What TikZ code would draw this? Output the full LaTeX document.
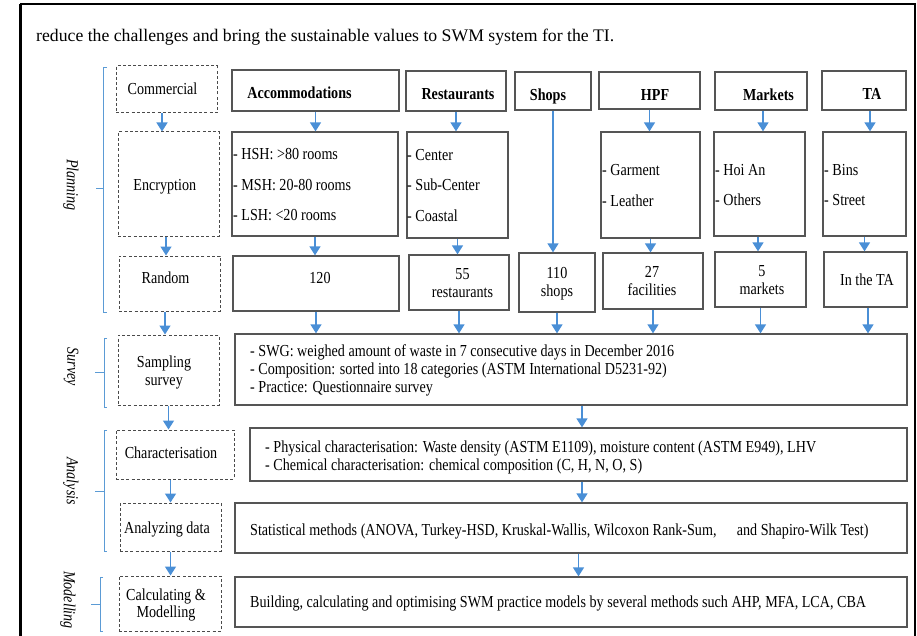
\documentclass[tikz,border=0pt]{standalone}
\usepackage{fontspec}
\setmainfont{Liberation Serif}
\newfontfamily\figfont{Liberation Serif}[FakeStretch=0.84]
\usetikzlibrary{arrows.meta}

\definecolor{flowblue}{HTML}{4A8FD6}
\definecolor{bracketblue}{HTML}{5B9BD5}
\definecolor{boxgray}{HTML}{555555}
\definecolor{dashgray}{HTML}{4A4A4A}

\tikzset{
  solidbox/.style={draw=boxgray, line width=1.3pt, inner sep=0pt},
  dashbox/.style={draw=dashgray, line width=1pt, dash pattern=on 3pt off 2.2pt, inner sep=0pt},
  txt/.style={font=\figfont\fontsize{16.8}{17.7}\selectfont, inner sep=0pt, anchor=base, align=center},
  listtxt/.style={font=\figfont\fontsize{16.8}{30.8}\selectfont, inner sep=0pt, anchor=base west, align=left},
  linestxt/.style={font=\figfont\fontsize{16.8}{17.7}\selectfont, inner sep=0pt, anchor=base west, align=left},
  headtxt/.style={txt, font=\figfont\bfseries\fontsize{16.8}{17.7}\selectfont},
  sidetxt/.style={font=\figfont\itshape\fontsize{16.8}{17.7}\selectfont, rotate=-90, inner sep=0pt},
  flow/.style={draw=flowblue, line width=1.5pt, -{Triangle[width=11pt,length=9pt]}},
  brack/.style={draw=bracketblue, line width=1pt}
}

\begin{document}
\begin{tikzpicture}[x=1pt, y=-1pt]
\useasboundingbox (0,0) rectangle (917,636);

% page frame and running text
\draw[line width=2pt] (21,640) -- (21,4.3) -- (914.5,4.3) -- (914.5,640);
\draw[line width=2.7pt] (20.8,4) -- (20.8,640);
\node[anchor=base west, inner sep=0pt, font=\fontsize{17.7}{21}\selectfont] (title) at (36,41.7)
  {reduce the challenges and bring the sustainable values to SWM system for the TI.};

% left column
\node[dashbox, minimum width=101, minimum height=47] (com) at (166.5,89.5) {};
\node[dashbox, minimum width=101, minimum height=104] (enc) at (168.5,184) {};
\node[dashbox, minimum width=101, minimum height=55] (rnd) at (169.5,283.5) {};
\node[dashbox, minimum width=101, minimum height=70] (smp) at (168.5,370) {};
\node[dashbox, minimum width=118, minimum height=49] (chr) at (175,454.5) {};
\node[dashbox, minimum width=101, minimum height=48] (anl) at (170.5,527) {};
\node[dashbox, minimum width=102, minimum height=55] (cal) at (170,603.5) {};

\node[txt] (comT) at (162.5,95) {Commercial};
\node[txt] (encT) at (164.8,190.7) {Encryption};
\node[txt] (rndT) at (165.5,283.3) {Random};
\node[txt] (smpT) at (164,385) {Sampling\\survey};
\node[txt] (chrT) at (171,458.7) {Characterisation};
\node[txt] (anlT) at (167,533) {Analyzing data};
\node[txt] (calT) at (166,617.7) {Calculating \&\\Modelling};

% categories
\node[solidbox, minimum width=167, minimum height=41] (accH) at (315.5,90.5) {};
\node[solidbox, minimum width=166, minimum height=104] (accE) at (315,184) {};
\node[solidbox, minimum width=166, minimum height=55] (accN) at (316,283.5) {};
\node[solidbox, minimum width=100, minimum height=40] (resH) at (456,91) {};
\node[solidbox, minimum width=101, minimum height=106] (resE) at (457.5,185) {};
\node[solidbox, minimum width=100, minimum height=55] (resN) at (459,282.5) {};
\node[solidbox, minimum width=76, minimum height=38] (shpH) at (553,91) {};
\node[solidbox, minimum width=76, minimum height=59] (shpN) at (557,282.5) {};
\node[solidbox, minimum width=101, minimum height=37] (hpfH) at (649.5,90.5) {};
\node[solidbox, minimum width=99, minimum height=106] (hpfE) at (650.5,185) {};
\node[solidbox, minimum width=100, minimum height=56] (hpfN) at (653,281) {};
\node[solidbox, minimum width=92, minimum height=38] (mktH) at (761,91) {};
\node[solidbox, minimum width=91, minimum height=104] (mktE) at (759.5,184) {};
\node[solidbox, minimum width=91, minimum height=55] (mktN) at (760.5,279.5) {};
\node[solidbox, minimum width=84, minimum height=39] (taH) at (864,90.5) {};
\node[solidbox, minimum width=83, minimum height=104] (taE) at (864.5,184) {};
\node[solidbox, minimum width=83, minimum height=55] (taN) at (865.5,279.5) {};

\node[headtxt] (accHT) at (299.5,98.7) {Accommodations};
\node[headtxt] (resHT) at (458,99.3) {Restaurants};
\node[headtxt] (shpHT) at (548,100.3) {Shops};
\node[headtxt] (hpfHT) at (655,100.3) {HPF};
\node[headtxt] (mktHT) at (768.5,100.3) {Markets};
\node[headtxt] (taHT) at (872,100) {TA};

\node[listtxt] (accET) at (233,221) {- HSH: >80 rooms\\- MSH: 20-80 rooms\\- LSH: <20 rooms};
\node[listtxt] (resET) at (407,221.7) {- Center\\- Sub-Center\\- Coastal};
\node[listtxt] (hpfET) at (602,206.7) {- Garment\\- Leather};
\node[listtxt] (mktET) at (715,206) {- Hoi An\\- Others};
\node[listtxt] (taET) at (824,206) {- Bins\\- Street};

\node[txt] (accNT) at (320,283.3) {120};
\node[txt] (resNT) at (462.5,297.3) {55\\restaurants};
\node[txt] (shpNT) at (557,296.5) {110\\shops};
\node[txt] (hpfNT) at (652,295) {27\\facilities};
\node[txt] (mktNT) at (762,294.3) {5\\markets};
\node[txt] (taNT) at (867,285.3) {In the TA};

% survey, analysis, modelling
\node[solidbox, minimum width=672, minimum height=71] (svy) at (571,369.5) {};
\node[solidbox, minimum width=657, minimum height=53] (chc) at (578.5,454.5) {};
\node[solidbox, minimum width=672, minimum height=50] (sta) at (571,528) {};
\node[solidbox, minimum width=672, minimum height=50] (bld) at (571,602) {};

\node[linestxt] (svyT) at (250,392.3) {- SWG: weighed amount of waste in 7 consecutive days in December 2016\\- Composition: sorted into 18 categories (ASTM International D5231-92)\\- Practice: Questionnaire survey};
\node[linestxt] (chcT) at (265,470) {- Physical characterisation: Waste density (ASTM E1109), moisture content (ASTM E949), LHV\\- Chemical characterisation: chemical composition (C, H, N, O, S)};
\node[linestxt] (staT) at (250,535) {Statistical methods (ANOVA, Turkey-HSD, Kruskal-Wallis, Wilcoxon Rank-Sum, \quad and Shapiro-Wilk Test)};
\node[linestxt] (bldT) at (250,607.7) {Building, calculating and optimising SWM practice models by several methods such AHP, MFA, LCA, CBA};

% arrows
\draw[flow] ([xshift=-4.5]com.south) -- ([xshift=-4.5]com.south |- enc.north);
\draw[flow] ([xshift=-2.5]enc.south) -- ([xshift=-2.5]enc.south |- rnd.north);
\draw[flow] ([xshift=-4.5]rnd.south) -- ([xshift=-4.5]rnd.south |- smp.north);
\draw[flow] (smp.south) -- (smp.south |- chr.north);
\draw[flow] (anl.north |- chr.south) -- (anl.north);
\draw[flow] (anl.south) -- (anl.south |- cal.north);

\draw[flow] (accH.south) -- (accH.south |- accE.north);
\draw[flow] (accE.south) -- (accE.south |- accN.north);
\draw[flow] (accN.south) -- (accN.south |- svy.north);
\draw[flow] (resH.south) -- (resH.south |- resE.north);
\draw[flow] (resE.south) -- (resE.south |- resN.north);
\draw[flow] (resN.south) -- (resN.south |- svy.north);
\draw[flow] (shpH.south) -- (shpH.south |- shpN.north);
\draw[flow] (shpN.south) -- (shpN.south |- svy.north);
\draw[flow] (hpfH.south) -- (hpfH.south |- hpfE.north);
\draw[flow] (hpfE.south) -- (hpfE.south |- hpfN.north);
\draw[flow] (hpfN.south) -- (hpfN.south |- svy.north);
\draw[flow] ([xshift=2]mktH.south) -- ([xshift=2]mktH.south |- mktE.north);
\draw[flow] ([xshift=-1.5]mktE.south) -- ([xshift=-1.5]mktE.south |- mktN.north);
\draw[flow] (mktN.south) -- (mktN.south |- svy.north);
\draw[flow] ([xshift=6]taH.south) -- ([xshift=6]taH.south |- taE.north);
\draw[flow] (taE.south) -- (taE.south |- taN.north);
\draw[flow] ([xshift=2.5]taN.south) -- ([xshift=2.5]taN.south |- svy.north);

\draw[flow] ([xshift=3.5]chc.north |- svy.south) -- ([xshift=3.5]chc.north);
\draw[flow] ([xshift=3.5]chc.south) -- ([xshift=3.5]chc.south |- sta.north);
\draw[flow] (chc.south |- sta.south) -- (chc.south |- bld.north);

% brackets
\draw[brack] (107,68) -- (103.5,68) -- (103.5,312) -- (107,312) (103.5,189) -- (96,189);
\draw[brack] (107,338) -- (104,338) -- (104,407) -- (107,407) (104,372) -- (95,372);
\draw[brack] (107,430) -- (104,430) -- (104,551) -- (107,551) (104,491) -- (95,491);
\draw[brack] (103,577) -- (100,577) -- (100,631) -- (103,631) (100,604) -- (91,604);
\node[sidetxt] (planL) at (71,185) {Planning};
\node[sidetxt] (svyL) at (71,367) {Survey};
\node[sidetxt] (anaL) at (71,481) {Analysis};
\node[sidetxt] (modL) at (68,600) {Modelling};
\end{tikzpicture}
\end{document}
